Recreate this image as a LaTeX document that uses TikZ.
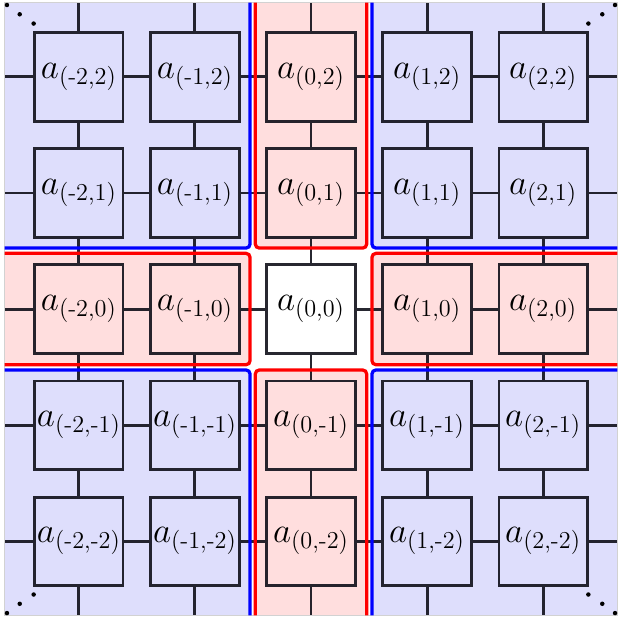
\documentclass[tikz,border=0pt]{standalone}
\usepackage{amsmath}
\usetikzlibrary{positioning}
\definecolor{ink}{RGB}{15,15,25}
\definecolor{lilac}{RGB}{222,222,252}
\definecolor{blush}{RGB}{255,222,222}
\tikzset{
  site/.style={draw=ink,draw opacity=0.9,line width=1.45pt,minimum size=1.52cm,
    inner sep=0pt,font=\fontsize{17}{20}\selectfont},
  bond/.style={draw=ink,draw opacity=0.9,line width=1.45pt},
  armline/.style={draw=red,line width=1.6pt,rounded corners=2pt},
  quadline/.style={draw=blue,line width=1.6pt,rounded corners=2pt},
  frame/.style={draw=gray!35,line width=0.6pt},
}
\newcommand{\amp}[2]{$a_{\text{(#1,#2)}}$}
\def\E{2.64}

\begin{document}
\begin{tikzpicture}[x=2cm,y=2cm]
  \useasboundingbox (-2.68,-2.663) rectangle (2.68,2.663);
  % regions
  \foreach \a in {0,90,180,270} {
    \begin{scope}[rotate=\a]
      \fill[blush] (-0.48,0.525) rectangle (0.48,\E);
      \fill[lilac] (-\E,0.525) rectangle (-0.525,\E);
    \end{scope}
  }
  \draw[frame] (-\E,-\E) rectangle (\E,\E);
  % sites
  \foreach \c in {0,...,4} {
    \foreach \r in {0,...,4} {
      \pgfmathtruncatemacro{\i}{\c-2}
      \pgfmathtruncatemacro{\j}{\r-2}
      \node[site] (n\c\r) at (\i,\j) {\amp{\i}{\j}};
    }
  }
  % free ends at the border
  \foreach \k in {0,...,4} {
    \pgfmathtruncatemacro{\p}{\k-2}
    \coordinate (w\k) at (-\E,\p);
    \coordinate (e\k) at (\E,\p);
    \coordinate (s\k) at (\p,-\E);
    \coordinate (t\k) at (\p,\E);
  }
  % bonds
  \foreach \k in {0,...,4} {
    \foreach \c [evaluate=\c as \d using int(\c+1)] in {0,...,3} {
      \draw[bond] (n\c\k) -- (n\d\k);
      \draw[bond] (n\k\c) -- (n\k\d);
    }
    \draw[bond] (n0\k) -- (w\k);
    \draw[bond] (n4\k) -- (e\k);
    \draw[bond] (n\k0) -- (s\k);
    \draw[bond] (n\k4) -- (t\k);
  }
  % borders of the arms and quadrants
  \foreach \a in {0,90,180,270} {
    \begin{scope}[rotate=\a]
      \draw[armline] (-0.48,\E) -- (-0.48,0.525) -- (0.48,0.525) -- (0.48,\E);
      \draw[quadline] (-0.525,\E) -- (-0.525,0.525) -- (-\E,0.525);
    \end{scope}
  }
  % dots in the corners
  \foreach \sx/\sy in {-1/1,1/1,-1/-1,1/-1} {
    \foreach \u/\v in {2.62/2.62,2.51/2.54,2.39/2.46}
      \fill[black] (\sx*\u,\sy*\v) circle (1.1pt);
  }
\end{tikzpicture}
\end{document}
